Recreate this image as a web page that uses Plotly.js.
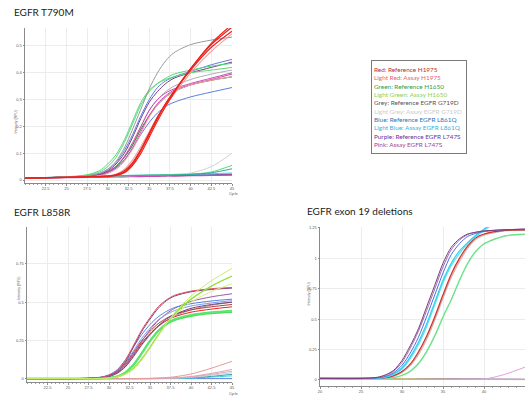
<!DOCTYPE html>
<html>
<head>
<meta charset="utf-8">
<script src="https://cdn.plot.ly/plotly-3.0.1.min.js"></script>
<style>html,body{margin:0;padding:0;background:#fff;}#chart{width:525px;height:396px;}</style>
</head>
<body>
<div id="chart"></div>
<script>
// ---------- DATA ----------
const panelTitles = ["EGFR T790M", "EGFR L858R", "EGFR exon 19 deletions"];
const legendLabels = ["Red: Reference H1975", "Light Red: Assay H1975", "Green: Reference H1650", "Light Green: Assay H1650",
  "Grey: Reference EGFR G719D", "Light Grey: Assay EGFR G719D", "Blue: Reference EGFR L861Q", "Light Blue: Assay EGFR L861Q",
  "Purple: Reference EGFR L747S", "Pink: Assay EGFR L747S"];

// Panel 1: EGFR T790M (cycle, intensity RFU)
const t790m_cycles = [20, 25, 27.5, 29, 30, 31, 32, 33, 34, 35, 36, 37, 38, 40, 42.5, 45];
const t790m_red1 = [0.007,0.010,0.012,0.013,0.014,0.018,0.030,0.060,0.110,0.170,0.230,0.285,0.330,0.415,0.505,0.570];
const t790m_red2 = [0.007,0.010,0.012,0.013,0.015,0.020,0.035,0.065,0.115,0.175,0.235,0.285,0.330,0.410,0.495,0.555];
const t790m_red3 = [0.007,0.010,0.012,0.013,0.014,0.017,0.027,0.055,0.100,0.160,0.220,0.275,0.325,0.415,0.510,0.580];
const t790m_lightRed1 = [0.007,0.010,0.012,0.014,0.016,0.022,0.040,0.075,0.125,0.180,0.235,0.280,0.320,0.400,0.480,0.545];
const t790m_lightRed2 = [0.007,0.011,0.014,0.016,0.025,0.040,0.070,0.115,0.175,0.235,0.280,0.310,0.330,0.355,0.372,0.385];
const t790m_grey = [0.007,0.011,0.016,0.025,0.040,0.070,0.120,0.190,0.265,0.340,0.400,0.445,0.475,0.505,0.522,0.533];
const t790m_lightGrey = [0.007,0.011,0.015,0.020,0.030,0.050,0.085,0.135,0.200,0.260,0.300,0.330,0.350,0.375,0.395,0.410];
const t790m_green = [0.007,0.011,0.018,0.030,0.050,0.085,0.140,0.210,0.280,0.330,0.360,0.380,0.395,0.410,0.425,0.435];
const t790m_lightGreen = [0.007,0.012,0.020,0.035,0.060,0.095,0.150,0.220,0.290,0.335,0.360,0.375,0.385,0.400,0.410,0.420];
const t790m_darkGreen = [0.007,0.011,0.014,0.020,0.030,0.050,0.085,0.130,0.190,0.240,0.280,0.310,0.330,0.355,0.372,0.385];
const t790m_blue = [0.007,0.011,0.016,0.025,0.040,0.065,0.110,0.170,0.240,0.300,0.345,0.370,0.385,0.405,0.430,0.450];
const t790m_blueLow = [0.007,0.011,0.014,0.018,0.028,0.045,0.075,0.120,0.170,0.215,0.250,0.275,0.290,0.310,0.328,0.345];
const t790m_purple = [0.007,0.011,0.015,0.022,0.035,0.060,0.100,0.160,0.230,0.290,0.330,0.360,0.380,0.400,0.420,0.440];
const t790m_pink1 = [0.007,0.011,0.015,0.020,0.032,0.052,0.088,0.140,0.200,0.260,0.300,0.325,0.340,0.360,0.380,0.400];
const t790m_pink2 = [0.007,0.011,0.014,0.018,0.028,0.045,0.075,0.120,0.180,0.240,0.285,0.315,0.335,0.355,0.375,0.395];
const t790m_flatPink = [0.006,0.009,0.010,0.011,0.011,0.012,0.012,0.013,0.013,0.014,0.014,0.015,0.015,0.016,0.017,0.018];
const t790m_flatPurple = [0.007,0.010,0.011,0.012,0.012,0.013,0.013,0.014,0.014,0.015,0.015,0.016,0.016,0.017,0.018,0.020];
const t790m_flatBlue = [0.008,0.011,0.012,0.013,0.014,0.014,0.015,0.015,0.016,0.016,0.017,0.017,0.018,0.019,0.020,0.022];
const t790m_flatCyan = [0.008,0.011,0.013,0.014,0.015,0.016,0.017,0.018,0.018,0.019,0.020,0.020,0.021,0.022,0.024,0.026];
const t790m_lateGrey = [0.007,0.010,0.012,0.013,0.014,0.015,0.015,0.016,0.017,0.018,0.019,0.020,0.021,0.026,0.050,0.100];
const t790m_lateGreen = [0.008,0.011,0.013,0.014,0.015,0.016,0.016,0.017,0.018,0.018,0.019,0.019,0.020,0.022,0.030,0.055];
const t790m_lateLightGreen = [0.008,0.011,0.013,0.014,0.015,0.016,0.016,0.017,0.017,0.018,0.018,0.019,0.019,0.021,0.027,0.042];

// Panel 2: EGFR L858R
const l858r_cycles = [20, 25, 27.5, 29, 30, 31, 32, 33, 34, 35, 36, 37, 38, 40, 42.5, 45];
const l858r_red = [0.002,0.002,0.004,0.010,0.024,0.055,0.120,0.220,0.320,0.400,0.470,0.515,0.545,0.572,0.588,0.596];
const l858r_purple = [0.002,0.002,0.004,0.010,0.022,0.050,0.110,0.210,0.310,0.390,0.460,0.510,0.540,0.568,0.583,0.592];
const l858r_blue = [0.002,0.002,0.005,0.012,0.027,0.060,0.125,0.210,0.290,0.355,0.405,0.440,0.465,0.490,0.508,0.520];
const l858r_lightBlue = [0.002,0.002,0.004,0.010,0.022,0.050,0.105,0.185,0.265,0.330,0.385,0.420,0.445,0.475,0.495,0.510];
const l858r_purple2 = [0.002,0.002,0.003,0.008,0.018,0.042,0.090,0.165,0.245,0.320,0.380,0.425,0.460,0.505,0.535,0.555];
const l858r_pink = [0.002,0.002,0.003,0.007,0.016,0.038,0.080,0.150,0.225,0.290,0.345,0.390,0.420,0.460,0.485,0.500];
const l858r_lightRed = [0.002,0.002,0.004,0.009,0.020,0.046,0.100,0.175,0.250,0.310,0.360,0.395,0.420,0.450,0.470,0.485];
const l858r_red2 = [0.002,0.002,0.003,0.008,0.018,0.042,0.090,0.160,0.235,0.295,0.345,0.380,0.405,0.435,0.455,0.470];
const l858r_grey = [0.002,0.002,0.003,0.007,0.016,0.036,0.078,0.145,0.220,0.285,0.340,0.380,0.410,0.450,0.480,0.500];
const l858r_green1 = [0.002,0.002,0.002,0.004,0.007,0.015,0.040,0.090,0.165,0.245,0.310,0.355,0.383,0.410,0.427,0.435];
const l858r_green2 = [0.002,0.002,0.002,0.004,0.008,0.017,0.044,0.095,0.170,0.250,0.315,0.360,0.390,0.418,0.435,0.445];
const l858r_lightGreen1 = [0.002,0.002,0.002,0.003,0.006,0.012,0.030,0.065,0.125,0.200,0.280,0.360,0.430,0.540,0.640,0.720];
const l858r_lightGreen2 = [0.002,0.002,0.002,0.003,0.006,0.013,0.032,0.070,0.130,0.205,0.285,0.360,0.425,0.520,0.605,0.670];
const l858r_lightGreen3 = [0.002,0.002,0.002,0.003,0.007,0.014,0.035,0.075,0.135,0.210,0.290,0.360,0.415,0.500,0.570,0.620];
const l858r_lateRed = [0.002,0.002,0.002,0.002,0.002,0.002,0.002,0.002,0.003,0.004,0.006,0.009,0.014,0.032,0.070,0.115];
const l858r_latePink = [0.002,0.002,0.002,0.002,0.002,0.002,0.002,0.002,0.002,0.003,0.004,0.005,0.007,0.016,0.036,0.062];
const l858r_lateGrey = [0.002,0.002,0.002,0.002,0.002,0.002,0.002,0.002,0.002,0.003,0.003,0.004,0.006,0.013,0.030,0.050];
const l858r_lateLightGrey = [0.002,0.002,0.002,0.002,0.002,0.002,0.002,0.002,0.002,0.002,0.003,0.004,0.005,0.010,0.024,0.040];
const l858r_lateTeal = [0.002,0.002,0.002,0.002,0.002,0.002,0.002,0.002,0.002,0.002,0.003,0.003,0.004,0.008,0.017,0.030];
const l858r_lateCyan = [0.002,0.002,0.002,0.002,0.002,0.002,0.002,0.002,0.002,0.002,0.002,0.003,0.003,0.006,0.012,0.020];
const l858r_flatBlue = [0.002,0.002,0.002,0.002,0.002,0.002,0.002,0.002,0.002,0.002,0.002,0.002,0.002,0.002,0.002,0.002];

// Panel 3: EGFR exon 19 deletions
const ex19_cycles = [20, 25, 27, 28, 29, 30, 31, 32, 33, 34, 35, 36, 37, 38, 39, 40, 42.5, 45];
const ex19_purple1 = [0.012,0.012,0.022,0.042,0.080,0.160,0.280,0.420,0.600,0.780,0.960,1.090,1.160,1.200,1.215,1.225,1.235,1.240];
const ex19_purple2 = [0.012,0.012,0.020,0.038,0.072,0.145,0.260,0.400,0.570,0.750,0.930,1.070,1.150,1.195,1.215,1.225,1.235,1.240];
const ex19_blue = [0.012,0.012,0.016,0.030,0.060,0.120,0.220,0.350,0.520,0.700,0.880,1.030,1.120,1.180,1.205,1.220,1.235,1.240];
const ex19_cyan1 = [0.012,0.012,0.014,0.025,0.050,0.100,0.190,0.310,0.460,0.640,0.820,0.960,1.060,1.130,1.190,1.240,1.350,1.450];
const ex19_cyan2 = [0.012,0.012,0.013,0.022,0.045,0.090,0.175,0.290,0.440,0.620,0.800,0.940,1.040,1.120,1.180,1.230,1.340,1.440];
const ex19_red = [0.012,0.012,0.012,0.018,0.035,0.070,0.130,0.230,0.360,0.520,0.700,0.870,1.000,1.100,1.170,1.200,1.230,1.235];
const ex19_lightRed = [0.012,0.012,0.012,0.017,0.032,0.064,0.120,0.215,0.340,0.500,0.680,0.850,0.980,1.090,1.160,1.195,1.228,1.235];
const ex19_grey = [0.012,0.012,0.012,0.016,0.030,0.060,0.115,0.205,0.330,0.490,0.670,0.840,0.970,1.080,1.155,1.190,1.225,1.232];
const ex19_green = [0.012,0.012,0.010,0.012,0.020,0.038,0.072,0.135,0.235,0.365,0.520,0.660,0.820,0.960,1.060,1.120,1.185,1.200];
const ex19_lightGreen = [0.012,0.012,0.010,0.011,0.018,0.035,0.067,0.128,0.225,0.355,0.510,0.655,0.810,0.950,1.050,1.115,1.180,1.195];
const ex19_flatOlive = [0.018,0.016,0.015,0.014,0.013,0.012,0.011,0.010,0.009,0.008,0.007,0.006,0.005,0.005,0.004,0.004,0.003,0.002];
const ex19_flatPurple = [0.014,0.013,0.012,0.012,0.011,0.011,0.010,0.010,0.009,0.009,0.008,0.008,0.007,0.007,0.007,0.006,0.006,0.005];
const ex19_flatBlue = [0.010,0.009,0.009,0.009,0.008,0.008,0.008,0.007,0.007,0.007,0.006,0.006,0.006,0.005,0.005,0.005,0.004,0.004];
const ex19_latePink = [0.005,0.005,0.005,0.005,0.005,0.005,0.005,0.005,0.005,0.005,0.005,0.005,0.005,0.005,0.005,0.006,0.045,0.105];

// ---------- STYLE ----------
const C = {
  red: '#e8231f', lightRed: '#f0a0a0', green: '#57d977', lightGreen: '#b9ec6a', darkGreen: '#2f7d3a',
  grey: '#9a9a9a', lightGrey: '#d2d2d2', blue: '#5b7fe0', lightBlue: '#3ad4e6', purple: '#7a3c78', pink: '#d245b5', olive: '#c9cf6a', teal: '#2aa9a0'
};
const legendColors = ['#b8312a', '#e06a6a', '#2f9e4a', '#8fd14f', '#555555', '#cccccc', '#2e74b5', '#36b3de', '#7030a0', '#a63fa0'];

const traces = [];
function add(x, y, color, width, xa, ya) {
  traces.push({x: x, y: y, type: 'scatter', mode: 'lines', xaxis: xa, yaxis: ya,
    line: {color: color, width: width, shape: 'spline', smoothing: 0.8}, hoverinfo: 'skip', showlegend: false});
}
// panel 1
[[t790m_flatCyan, C.lightBlue, 1], [t790m_flatBlue, C.blue, 1], [t790m_flatPurple, C.purple, 1], [t790m_flatPink, C.pink, 1.2],
 [t790m_lateGrey, C.lightGrey, 1], [t790m_lateGreen, C.green, 1], [t790m_lateLightGreen, C.teal, 1],
 [t790m_lightGrey, C.grey, 0.8], [t790m_darkGreen, C.darkGreen, 1], [t790m_blueLow, C.blue, 1], [t790m_pink2, C.pink, 1],
 [t790m_pink1, C.pink, 1], [t790m_lightRed2, C.lightRed, 1], [t790m_purple, C.purple, 1], [t790m_blue, C.blue, 1],
 [t790m_lightGreen, C.green, 1], [t790m_green, C.green, 1], [t790m_grey, C.grey, 1],
 [t790m_lightRed1, C.lightRed, 1.1], [t790m_red2, C.red, 1.2], [t790m_red1, C.red, 1.3], [t790m_red3, C.red, 1.2]
].forEach(s => add(t790m_cycles, s[0], s[1], s[2], 'x', 'y'));
// panel 2
[[l858r_flatBlue, C.blue, 1], [l858r_lateCyan, C.lightBlue, 1], [l858r_lateTeal, C.teal, 1], [l858r_lateLightGrey, C.lightGrey, 1],
 [l858r_lateGrey, '#c9b0c4', 1], [l858r_latePink, '#e6a0b8', 1], [l858r_lateRed, '#e39a9a', 1],
 [l858r_green1, '#4be25e', 1.8], [l858r_green2, '#5fe36f', 1.8], [l858r_grey, C.grey, 1], [l858r_red2, C.red, 1],
 [l858r_lightRed, '#b83a3a', 1], [l858r_pink, C.purple, 1], [l858r_purple2, '#a05a9c', 1], [l858r_lightBlue, '#7b9be8', 1],
 [l858r_blue, C.blue, 1], [l858r_purple, C.purple, 1], [l858r_red, '#e05060', 1],
 [l858r_lightGreen3, '#d3f08a', 1], [l858r_lightGreen2, '#8fe03a', 1.3], [l858r_lightGreen1, '#c6ee70', 1]
].forEach(s => add(l858r_cycles, s[0], s[1], s[2], 'x2', 'y2'));
// panel 3
[[ex19_flatBlue, C.blue, 1], [ex19_flatPurple, C.purple, 1], [ex19_flatOlive, C.olive, 1], [ex19_latePink, '#e0a0d8', 1],
 [ex19_lightGreen, '#a8f0b8', 1], [ex19_green, '#6be08a', 1.2], [ex19_grey, '#bbbbbb', 1], [ex19_lightRed, '#f0a0a0', 1],
 [ex19_red, '#c8322a', 1.2], [ex19_cyan2, '#5ee0f0', 1.2], [ex19_cyan1, '#2ed2ea', 1.2], [ex19_blue, '#4a6fe0', 1],
 [ex19_purple2, '#a070b0', 1], [ex19_purple1, '#7a3c78', 1]
].forEach(s => add(ex19_cycles, s[0], s[1], s[2], 'x3', 'y3'));

// ---------- LAYOUT ----------
const W = 525, H = 396;
const px = v => v / W, py = v => 1 - v / H;
const tickFont = {family: 'Liberation Sans, Arial, sans-serif', size: 4, color: '#555'};
const gridC = '#ececec';
function xax(dom, anchor, tv, tt) {
  return {domain: dom, anchor: anchor, range: [20, 45], tickvals: tv, ticktext: tt, tickfont: tickFont,
    showgrid: true, gridcolor: gridC, gridwidth: 1, zeroline: false, showline: true, linecolor: '#8a8a8a', linewidth: 1,
    ticks: 'outside', ticklen: 1.5, tickcolor: '#8a8a8a', fixedrange: true, ticklabelstandoff: 0,
    minor: {ticks: 'outside', ticklen: 1.2, dtick: 0.5, tickcolor: '#a0a0a0', showgrid: false}};
}
function yax(dom, anchor, rng, tv, tt) {
  return {domain: dom, anchor: anchor, range: rng, tickvals: tv, ticktext: tt, tickfont: tickFont,
    showgrid: true, gridcolor: gridC, gridwidth: 1, zeroline: false, showline: true, linecolor: '#8a8a8a', linewidth: 1,
    ticks: 'outside', ticklen: 1.5, tickcolor: '#8a8a8a', fixedrange: true};
}
const x12ticks = [22.5, 25, 27.5, 30, 32.5, 35, 37.5, 40, 42.5, 45];
const x12text = ['22.5', '25', '27.5', '30', '32.5', '35', '37.5', '40', '42.5', '45'];

const titleFont = {family: 'Lato, Liberation Sans, sans-serif', size: 10, color: '#222'};
const smallFont = {family: 'Liberation Sans, Arial, sans-serif', size: 3.5, color: '#555'};

const legendText = legendLabels.map((t, i) => '<span style="color:' + legendColors[i] + '">' + t + '</span>').join('<br>');

const annotations = [
  {text: panelTitles[0], x: px(12), y: py(12), xanchor: 'left', yanchor: 'middle', font: titleFont},
  {text: panelTitles[1], x: px(12), y: py(212), xanchor: 'left', yanchor: 'middle', font: titleFont},
  {text: panelTitles[2], x: px(305), y: py(211), xanchor: 'left', yanchor: 'middle', font: titleFont},
  {text: 'Intensity (RFU)', x: px(11.5), y: py(108), textangle: -90, font: smallFont},
  {text: 'Intensity (RFU)', x: px(15), y: py(302), textangle: -90, font: smallFont},
  {text: 'Intensity (RFU)', x: px(308.5), y: py(308), textangle: -90, font: smallFont},
  {text: 'Cycle', x: px(233), y: py(191), yanchor: 'top', borderpad: 0, font: smallFont},
  {text: 'Cycle', x: px(233), y: py(391), yanchor: 'top', borderpad: 0, font: smallFont},
  {text: legendText, x: px(419), y: py(107), xanchor: 'center', yanchor: 'middle', align: 'left',
    width: 90, height: 88, valign: 'middle', bordercolor: '#7a7a7a', borderwidth: 1, borderpad: 2, bgcolor: '#fff',
    font: {family: 'Lato, Liberation Sans, sans-serif', size: 6.4}}
].map(a => Object.assign({xref: 'paper', yref: 'paper', showarrow: false}, a));

const layout = {
  width: W, height: H, margin: {l: 0, r: 0, t: 0, b: 0},
  paper_bgcolor: '#fff', plot_bgcolor: '#fff', showlegend: false,
  xaxis: xax([px(25), px(232)], 'y', x12ticks, x12text),
  yaxis: yax([py(183), py(28)], 'x', [-0.011, 0.567], [0, 0.1, 0.2, 0.3, 0.4, 0.5], ['0', '0.1', '0.2', '0.3', '0.4', '0.5']),
  xaxis2: xax([px(27), px(232)], 'y2', x12ticks, x12text),
  yaxis2: yax([py(382), py(227)], 'x2', [-0.02, 0.99], [0, 0.25, 0.5, 0.75], ['0', '0.25', '0.5', '0.75']),
  xaxis3: xax([px(320), 1], 'y3', [20, 25, 30, 35, 40, 45], ['20', '25', '30', '35', '40', '45']),
  yaxis3: yax([py(386), py(227)], 'x3', [-0.05, 1.258], [0, 0.25, 0.5, 0.75, 1, 1.25], ['0', '0.25', '0.5', '0.75', '1', '1.25']),
  annotations: annotations
};
layout.xaxis3.minor = {ticks: 'outside', ticklen: 1.2, dtick: 1, tickcolor: '#a0a0a0', showgrid: false};

Plotly.newPlot('chart', traces, layout, {staticPlot: true, displayModeBar: false});
</script>
</body>
</html>
